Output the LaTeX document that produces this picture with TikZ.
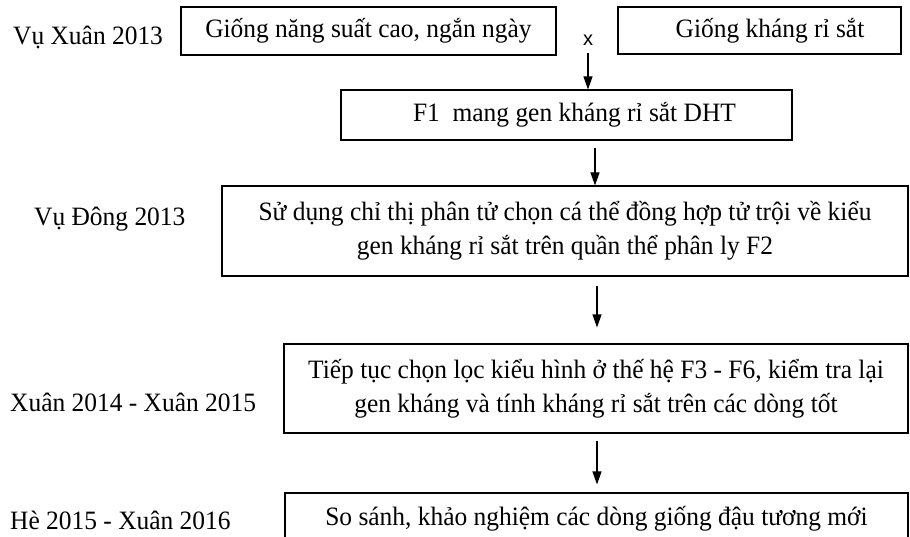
\documentclass[tikz,border=0pt]{standalone}
\usepackage{fontspec}
\setmainfont[FakeStretch=0.96]{Liberation Serif}
\newfontfamily\crossfont{Liberation Sans}
\usepackage{tikz}
\usetikzlibrary{arrows,arrows.meta,positioning}
\tikzstyle{box}   =[draw, line width=1.1pt, inner sep=0pt,
                    align=center]
\tikzstyle{season}=[anchor=base west, inner sep=0pt]
\tikzstyle{edge}  =[-{Triangle[width=9pt,length=13pt]},
                    line width=1.1pt, shorten <=7pt]

\begin{document}
\begin{tikzpicture}[x=1pt,y=-1pt,font=\fontsize{26.5}{34}\selectfont]
\useasboundingbox (0,0) rectangle (910,537);
%%%%%%%%%%%%%%%%%%%%%%%%%%%%%%%%%%%%%%%%%%%%%%%%
%%%%%%%%%%        Vu Xuan 2013        %%%%%%%%%%
%%%%%%%%%%%%%%%%%%%%%%%%%%%%%%%%%%%%%%%%%%%%%%%%
\node (s1) [season] at (13,45) {Vụ Xuân 2013};
\node (b1) [box, minimum width=375pt, minimum height=48pt] at (368.5,31)
	{Giống năng suất cao, ngắn ngày};
\node (b2) [box, minimum width=283pt, minimum height=47pt] at (759.5,30.5)
	{\hspace*{21pt}Giống kháng rỉ sắt};
\node (cross) [inner sep=0pt] at (588,40) {\crossfont\fontsize{20}{20}\selectfont x};

\node (f1) [box, minimum width=451pt, minimum height=50pt] at (566.5,115)
	{\hspace*{16pt}F1\ \ mang gen kháng rỉ sắt DHT};
\draw [edge, shorten <=8pt] (cross.south) to (cross.south |- f1.north);

%%%%%%%%%%%%%%%%%%%%%%%%%%%%%%%%%%%%%%%%%%%%%%%%
%%%%%%%%%%        Vu Dong 2013        %%%%%%%%%%
%%%%%%%%%%%%%%%%%%%%%%%%%%%%%%%%%%%%%%%%%%%%%%%%
\node (s2) [season] at (34,226) {Vụ Đông 2013};
\node (b3) [box, minimum width=686pt, minimum height=90pt] at (565,231)
	{Sử dụng chỉ thị phân tử chọn cá thể đồng hợp tử trội về kiểu\\
	 gen kháng rỉ sắt trên quần thể phân ly F2};
\draw [edge] (595,0 |- f1.south) to (595,0 |- b3.north);

%%%%%%%%%%%%%%%%%%%%%%%%%%%%%%%%%%%%%%%%%%%%%%%%
%%%%%%%%%%    Xuan 2014 - Xuan 2015   %%%%%%%%%%
%%%%%%%%%%%%%%%%%%%%%%%%%%%%%%%%%%%%%%%%%%%%%%%%
\node (s3) [season] at (10,411) {Xuân 2014 - Xuân 2015};
\node (b4) [box, minimum width=624pt, minimum height=89pt] at (596,388.5)
	{Tiếp tục chọn lọc kiểu hình ở thế hệ F3 - F6, kiểm tra lại\\
	 gen kháng và tính kháng rỉ sắt trên các dòng tốt};
\draw [edge, shorten <=9pt, shorten >=16pt] (597,0 |- b3.south) to (597,0 |- b4.north);

%%%%%%%%%%%%%%%%%%%%%%%%%%%%%%%%%%%%%%%%%%%%%%%%
%%%%%%%%%%     He 2015 - Xuan 2016    %%%%%%%%%%
%%%%%%%%%%%%%%%%%%%%%%%%%%%%%%%%%%%%%%%%%%%%%%%%
\node (s4) [season] at (10,529) {Hè 2015 - Xuân 2016};
\node (b5) [box, minimum width=623pt, minimum height=52pt] at (596.5,519)
	{So sánh, khảo nghiệm các dòng giống đậu tương mới};
\draw [edge, shorten >=8pt] (597,0 |- b4.south) to (597,0 |- b5.north);

\end{tikzpicture}
\end{document}
